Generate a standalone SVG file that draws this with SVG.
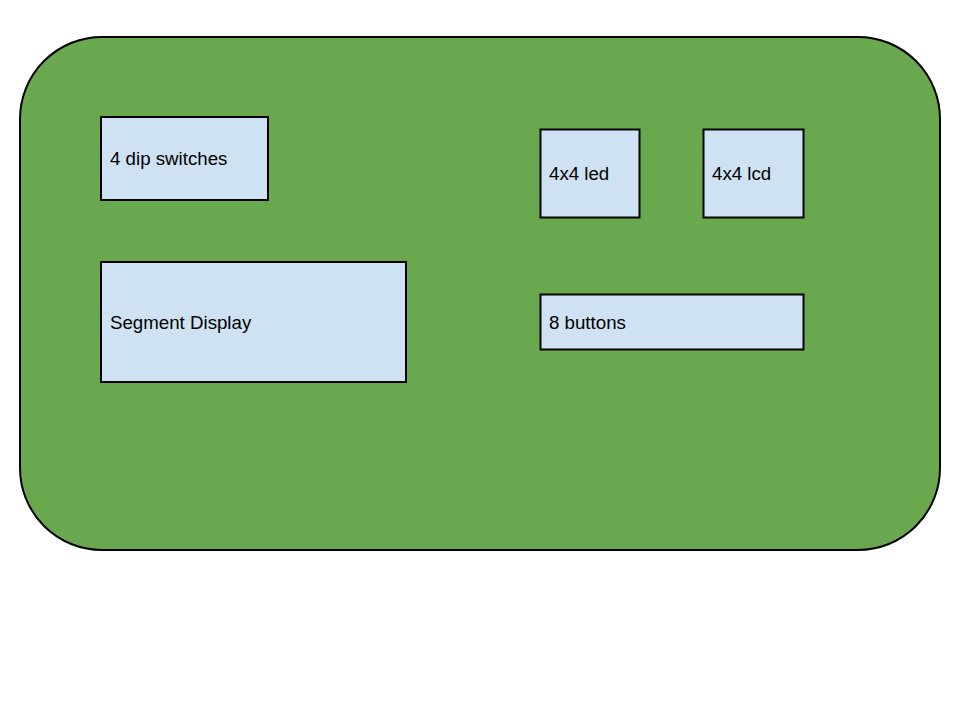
<svg xmlns="http://www.w3.org/2000/svg" width="960" height="720" viewBox="0 0 960 720">
<style>
.board{fill:#6aa84f;stroke:#000;stroke-width:2}
.box{fill:#cfe2f3;stroke:#000;stroke-width:2}
.lbl{font-family:"Liberation Sans",Arial,sans-serif;font-size:18.7px;fill:#000}
</style>
<rect width="960" height="720" fill="#fff"/>
<g id="board"><rect class="board" x="20" y="37" width="920" height="513" rx="82" ry="82"/></g>
<g id="dip"><rect class="box" x="101" y="117" width="167" height="83"/><text class="lbl" x="110" y="165">4 dip switches</text></g>
<g id="segment"><rect class="box" x="101" y="262" width="305" height="120"/><text class="lbl" x="110" y="329">Segment Display</text></g>
<g id="led"><rect class="box" x="540.5" y="129.5" width="99" height="88"/><text class="lbl" x="549" y="180">4x4 led</text></g>
<g id="lcd"><rect class="box" x="703.5" y="129.5" width="100" height="88"/><text class="lbl" x="712" y="180">4x4 lcd</text></g>
<g id="buttons"><rect class="box" x="540.5" y="294.5" width="263" height="55"/><text class="lbl" x="549" y="329">8 buttons</text></g>
<g id="connectors"></g>
</svg>
